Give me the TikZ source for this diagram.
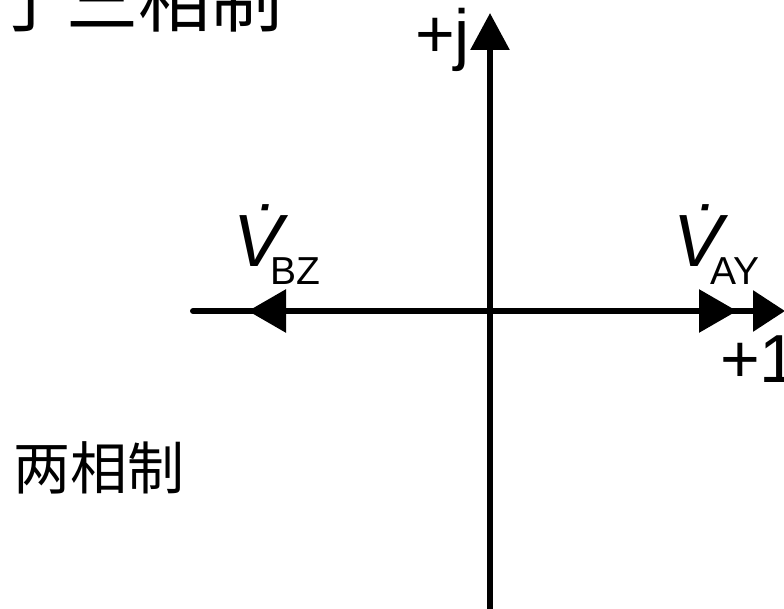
\documentclass[tikz,border=0pt]{standalone}
\usepackage{fontspec}
\setmainfont{Liberation Sans}
\newfontfamily\cjk{Noto Sans CJK SC}
\usetikzlibrary{arrows.meta}
\tikzset{
  axis/.style={line width=6pt, line cap=round},
  tipA/.style={-{Triangle[length=38pt 0,width=42pt 0]}},
  lbl/.style={inner sep=0pt, anchor=base west, font=\fontsize{68}{68}\selectfont},
  vlbl/.style={inner sep=0pt, anchor=base west, font=\fontsize{74}{74}\selectfont},
  cjklbl/.style={inner sep=0pt, anchor=base west}
}
\newcommand\subtxt[1]{\kern-12pt\raisebox{-18pt}{\fontsize{39}{39}\selectfont #1}}
\begin{document}
\begin{tikzpicture}[x=1pt,y=-1pt]
\useasboundingbox (0,0) rectangle (784,609);
\clip (0,0) rectangle (784,609);
\coordinate (O) at (490,311);
\coordinate (L) at (193,311);
\coordinate (R) at (785,311);
\coordinate (T) at (490,13);
\coordinate (B) at (490,620);
\coordinate (VA) at (737,311);
\coordinate (VB) at (248,311);
% axes
\draw[axis, -{Triangle[length=32pt 0,width=40pt 0]}] (L) -- (R);
\draw[axis, line cap=butt, -{Triangle[length=37pt 0,width=38pt 0]}] (B) -- (T);
% vectors
\draw[axis, line cap=butt, tipA] (O) -- (VA);
\draw[axis, line cap=butt, tipA] (O) -- (VB);
% labels
\node[lbl] (pj) at (415,58) {+j};
\node[lbl] (p1) at (720,382) {+1};
\node[vlbl] (vbz) at (233,267) {{\itshape\.V}\subtxt{BZ}};
\node[vlbl] (vay) at (673,267) {{\itshape\.V}\subtxt{AY}};
\node[cjklbl, font=\cjk\fontsize{57}{57}\selectfont] (two) at (13,489) {两相制};
\node[cjklbl, font=\cjk\fontsize{72}{72}\selectfont] (three) at (-6,27) {于三相制};
\end{tikzpicture}
\end{document}
